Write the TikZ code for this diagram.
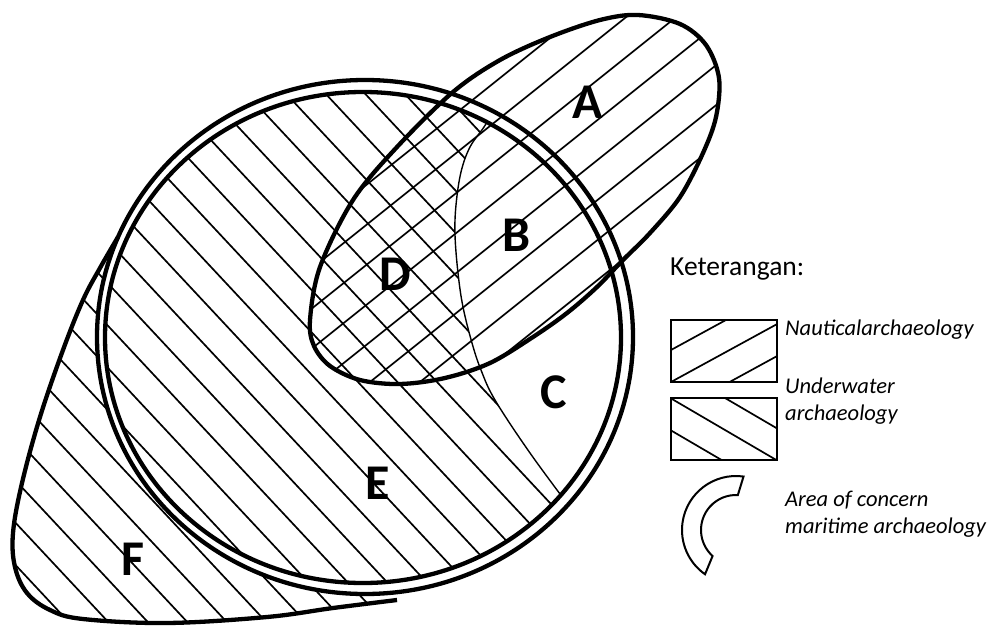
\documentclass[tikz,border=0pt]{standalone}
\usepackage{fontspec}
\setmainfont{Carlito}

\begin{document}
\begin{tikzpicture}[x=1pt,y=-1pt]
\tikzset{
  outline/.style={draw=black,line width=4.3pt},
  splitline/.style={draw=black,line width=1.4pt},
  hatchline/.style={draw=black,line width=1.7pt},
  keybox/.style={draw=black,line width=2.6pt},
  regionlabel/.style={inner sep=0pt,font=\fontsize{50}{50}\selectfont\bfseries},
  keytext/.style={anchor=base west,inner sep=0pt,font=\fontsize{22.5}{27}\selectfont\itshape}
}
\useasboundingbox (0,0) rectangle (992,626);
% F: underwater hatching outside the circle
\begin{scope}
\clip plot[smooth,tension=0.6] coordinates {(118,237) (100,268) (83,300) (63,350) (40,417) (22,483) (13,533) (15,567) (27,593) (50,610) (83,619) (167,623) (267,617) (333,608) (397,600)} -- cycle;
\foreach \k in {-12,...,23} \draw[hatchline] ({-157+39.5*\k},0) -- ++(585,626);
\end{scope}
\fill[white] (365,337) ellipse [x radius=268, y radius=257];
% underwater hatching inside the circle, left of the split line
\begin{scope}
\clip (363,337.5) ellipse [x radius=258, y radius=245.5];
\clip (-10,-10) -- (492,-10) -- plot[smooth,tension=0.6] coordinates {(494,110) (484,127) (470,147) (461,172) (456,205) (455,235) (458,273) (463,307) (472,343) (481,370) (495,400) (530,453) (572,510)} -- (572,640) -- (-10,640) -- cycle;
\foreach \k in {-12,...,23} \draw[hatchline] ({-157+39.5*\k},0) -- ++(585,626);
\end{scope}
% nautical hatching in the ellipse
\begin{scope}
\clip plot[smooth cycle,tension=0.55] coordinates {(310,320) (320,267) (353,200) (397,147) (453,92) (500,60) (550,37) (600,20) (638,15) (680,24) (706,45) (719,78) (716,117) (703,153) (680,197) (650,233) (623,260) (597,287) (567,313) (533,337) (490,363) (445,378) (400,384) (360,380) (330,366) (314,346)};
\foreach \k in {-14,...,17} \draw[hatchline] (0,{558+40*\k}) -- ++(760,-608);
\end{scope}
% split line
\begin{scope}
\clip (363,337.5) ellipse [x radius=258, y radius=245.5];
\draw[splitline] plot[smooth,tension=0.6] coordinates {(494,110) (484,127) (470,147) (461,172) (456,205) (455,235) (458,273) (463,307) (472,343) (481,370) (495,400) (530,453) (572,510)};
\end{scope}
% outlines
\draw[outline] (365,337) ellipse [x radius=268, y radius=257];
\draw[outline] (363,337.5) ellipse [x radius=258, y radius=245.5];
\draw[outline] plot[smooth cycle,tension=0.55] coordinates {(310,320) (320,267) (353,200) (397,147) (453,92) (500,60) (550,37) (600,20) (638,15) (680,24) (706,45) (719,78) (716,117) (703,153) (680,197) (650,233) (623,260) (597,287) (567,313) (533,337) (490,363) (445,378) (400,384) (360,380) (330,366) (314,346)};
\draw[outline] plot[smooth,tension=0.6] coordinates {(118,237) (100,268) (83,300) (63,350) (40,417) (22,483) (13,533) (15,567) (27,593) (50,610) (83,619) (167,623) (267,617) (333,608) (397,600)};
% region labels
\node[regionlabel] (labA) at (588,102) {A};
\node[regionlabel] (labB) at (517,235) {B};
\node[regionlabel] (labC) at (554,392) {C};
\node[regionlabel] (labD) at (395,274) {D};
\node[regionlabel] (labE) at (378,483) {E};
\node[regionlabel] (labF) at (133,559) {F};
% legend
\node[anchor=base west,inner sep=0pt,font=\fontsize{27.5}{32}\selectfont] (keyhead) at (670,275) {Keterangan:};
\begin{scope}
\clip (671,320) rectangle (777,382);
\foreach \s in {-32,0,32} \draw[hatchline] (660,{388+\s}) -- (790,{317+\s});
\end{scope}
\draw[keybox] (671,320) rectangle (777,382);
\begin{scope}
\clip (671,398) rectangle (777,460);
\foreach \s in {-32,0,32} \draw[hatchline] (660,{392+\s}) -- (790,{468+\s});
\end{scope}
\draw[keybox] (671,398) rectangle (777,460);
\draw[draw=black,line width=2pt] ([shift={(-82:54)}]736,530) arc[start angle=-82,end angle=-235,radius=54] -- ([shift={(-228:35)}]736,530) arc[start angle=-228,end angle=-87,radius=35] -- cycle;
\node[keytext] (nautkey) at (785,335) {Nauticalarchaeology};
\node[keytext] (waterkey) at (785,393) {Underwater};
\node[keytext] (waterkeyb) at (785,420) {archaeology};
\node[keytext] (areakey) at (785,506) {Area of concern};
\node[keytext] (areakeyb) at (785,533) {maritime archaeology};
\end{tikzpicture}
\end{document}
